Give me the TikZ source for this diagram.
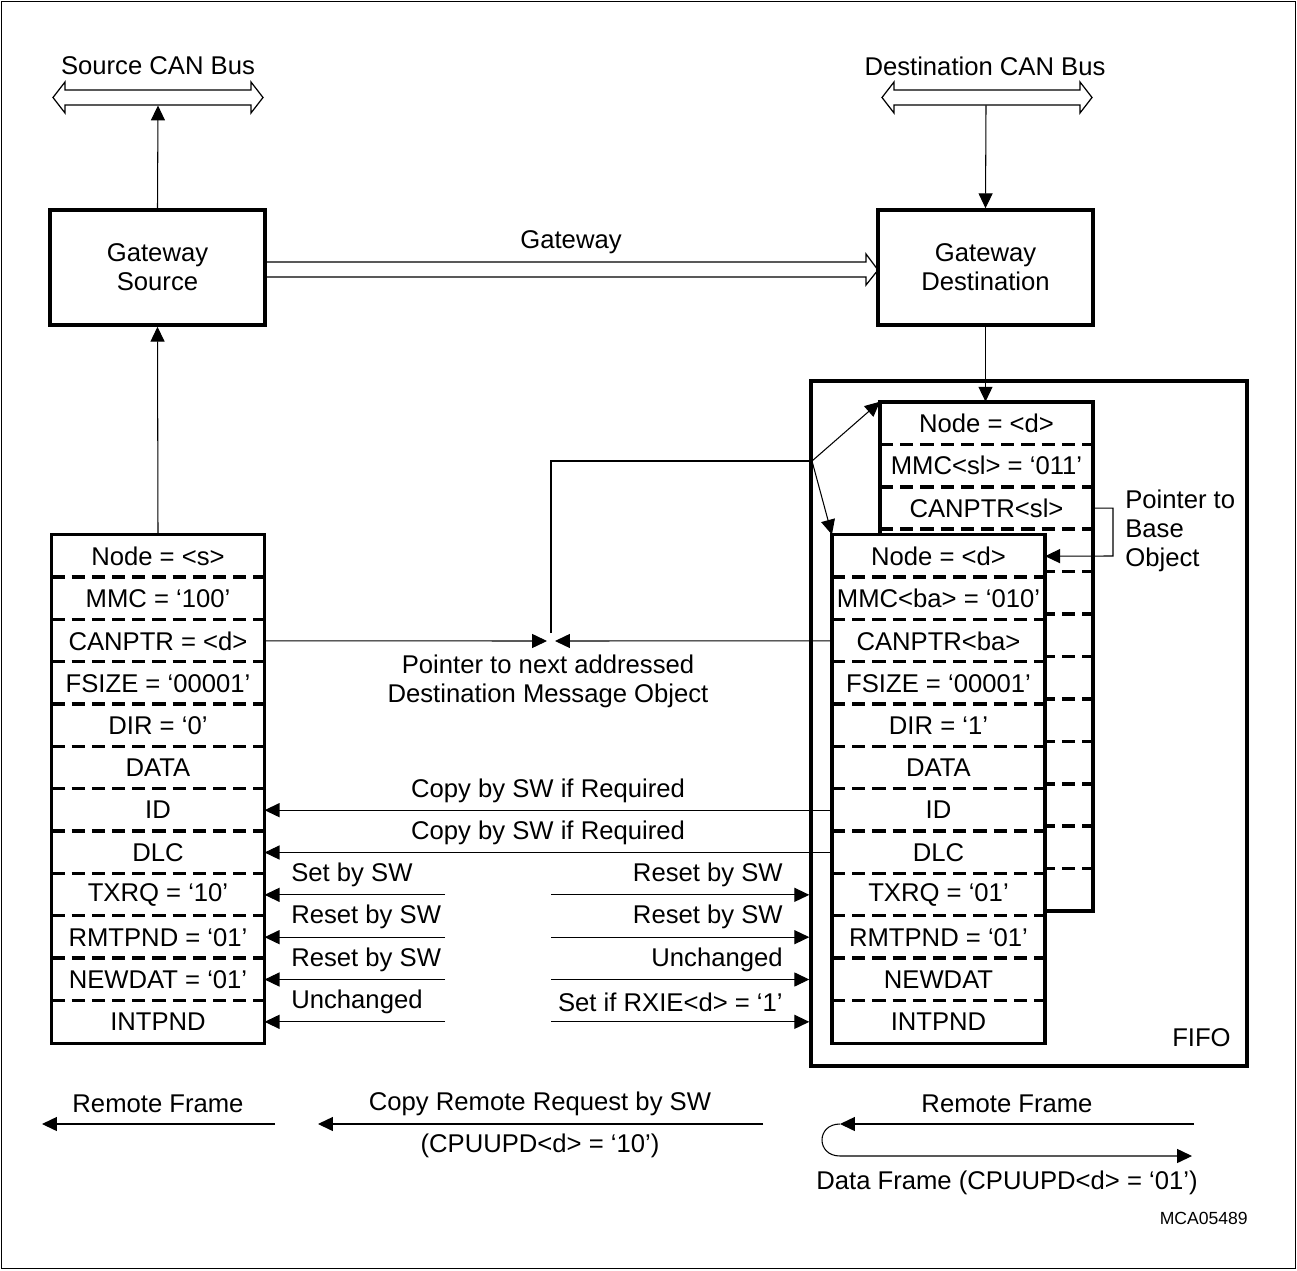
\documentclass[tikz,border=0pt]{standalone}
\usepackage{fontspec}
\setmainfont{Liberation Sans}
\usetikzlibrary{arrows.meta}
\tikzset{
  thinln/.style={line width=0.6pt},
  tip/.style={thinln,-{Triangle[length=8.5pt,width=8pt]}},
  hollow/.style={line width=0.7pt},
  boxln/.style={line width=2pt},
  sep/.style={line width=2pt, dash pattern=on 7.5pt off 4pt},
  cell/.style={minimum width=4.25cm, minimum height=0.8467cm, inner sep=0pt, fill=white},
  gwbox/.style={draw, line width=2pt, minimum width=4.3cm, minimum height=2.3cm, align=center, inner sep=0pt},
  lbl/.style={inner sep=0pt, align=center},
}
\begin{document}
\begin{tikzpicture}[x=0.02cm, y=-0.02cm, font=\fontsize{14.6}{16.5}\selectfont]
\useasboundingbox (0,0) rectangle (1297,1270);
\draw[line width=0.8pt] (1.5,1.5) rectangle (1295.5,1268.5);

% buses
\node[lbl] (sbuslbl) at (158,66) {Source CAN Bus};
\node[lbl] (dbuslbl) at (985,66) {Destination CAN Bus};
\draw[hollow] (53,97.5) -- (65,82) -- (65,90) -- (251,90) -- (251,82) -- (263,97.5) -- (251,113) -- (251,105) -- (65,105) -- (65,113) -- cycle;
\draw[hollow] (882,97.5) -- (894,82) -- (894,90) -- (1080,90) -- (1080,82) -- (1092,97.5) -- (1080,113) -- (1080,105) -- (894,105) -- (894,113) -- cycle;
\coordinate (sbus) at (158,105.5);
\coordinate (dbus) at (986,105.5);

% gateway boxes
\node[gwbox] (gs) at (157.5,267.5) {Gateway\\Source};
\node[gwbox] (gd) at (985.5,267.5) {Gateway\\Destination};
\draw[tip] (gs.north) -- (sbus);
\draw[tip] (dbus) -- (gd.north);

% gateway hollow arrow
\draw[hollow] (265,262) -- (866,262) -- (866,254) -- (878,270) -- (866,285) -- (866,277) -- (265,277);
\node[lbl] (gwlbl) at (571,242) {Gateway};

% FIFO
\node[draw, line width=2pt, minimum width=8.72cm, minimum height=13.7cm, inner sep=0pt] (fifo) at (1029,723.5) {};
\node[lbl, anchor=east] (fifolbl) at (1231,1038) {FIFO};

% back stack
\fill[white] (880,402) rectangle (1093,911);
\foreach \t [count=\i from 0] in {Node = <d>, MMC<sl> = ‘011’, CANPTR<sl>} {
  \node[cell] (b\i) at (986.5,{402+42.417*(\i+0.5)}) {\t};
}
\foreach \k in {1,...,11} {
  \draw[sep] (880,{402+42.417*\k}) -- (1093,{402+42.417*\k});
}
\draw[boxln] (880,402) rectangle (1093,911);
\draw[tip] (gd.south) -- (gd.south |- b0.north);

% front stack
\foreach \t [count=\i from 0] in {Node = <d>, MMC<ba> = ‘010’, CANPTR<ba>, FSIZE = ‘00001’, DIR = ‘1’, DATA, ID, DLC, TXRQ = ‘01’, RMTPND = ‘01’, NEWDAT, INTPND} {
  \node[cell] (f\i) at (938.5,{535+42.333*(\i+0.5)}) {\t};
}
\foreach \k in {1,...,11} {
  \draw[sep] (f\k.north west) -- (f\k.north east);
}
\draw[boxln] (f0.north west) rectangle (f11.south east);

% source stack
\foreach \t [count=\i from 0] in {Node = <s>, MMC = ‘100’, CANPTR = <d>, FSIZE = ‘00001’, DIR = ‘0’, DATA, ID, DLC, TXRQ = ‘10’, RMTPND = ‘01’, NEWDAT = ‘01’, INTPND} {
  \node[cell] (s\i) at (158,{535+42.333*(\i+0.5)}) {\t};
}
\foreach \k in {1,...,11} {
  \draw[sep] (s\k.north west) -- (s\k.north east);
}
\draw[boxln] (s0.north west) rectangle (s11.south east);
\draw[tip] (s0.north) -- (gs.south);

% pointer to base object
\coordinate (pbb) at (1113,556);
\draw[tip] (b2.east) -| (pbb) -- (f0.east);
\node[lbl, anchor=west, align=left] (pblbl) at (1125,531) {Pointer to\\Base\\Object};

% pointer to next addressed object
\coordinate (j) at (812,461);
\coordinate (m) at (551,461);
\coordinate (pl) at (547,641);
\coordinate (pr) at (555,641);
\coordinate (pv) at (551,633);
\draw[thinln] (pv) -- (m) -- (j);
\draw[tip] (j) -- (b0.north west);
\draw[tip] (j) -- (f0.north west);
\draw[tip] (s2.east) -- (pl);
\draw[tip] (f2.west) -- (pr);
\node[lbl] (ptrlbl) at (548,681) {Pointer to next addressed\\Destination Message Object};

% copies
\draw[tip] (f6.west) -- (s6.east);
\node[lbl] (c1) at (548,791) {Copy by SW if Required};
\draw[tip] (f7.west) -- (s7.east);
\node[lbl] (c2) at (548,833) {Copy by SW if Required};

% status arrows
\foreach \k/\ll/\rl in {8/Set by SW/Reset by SW, 9/Reset by SW/Reset by SW, 10/Reset by SW/Unchanged, 11/Unchanged/Set if RXIE<d> = ‘1’} {
  \coordinate (la\k) at (445,{535+42.333*(\k+0.5)});
  \coordinate (ra\k) at (551,{535+42.333*(\k+0.5)});
  \draw[tip] (la\k) -- (s\k.east);
  \draw[tip] (ra\k) -- (ra\k -| fifo.west);
  \node[lbl, anchor=west] (ll\k) at (291,{535+42.333*(\k+0.5)-20}) {\ll};
  \node[lbl, anchor=east] (rl\k) at (783,{535+42.333*(\k+0.5)-20}) {\rl};
}

% bottom
\coordinate (r1a) at (275,1124);
\coordinate (r1b) at (42,1124);
\draw[tip] (r1a) -- (r1b);
\node[lbl] (r1l) at (158,1104) {Remote Frame};
\coordinate (r2a) at (763,1124);
\coordinate (r2b) at (318,1124);
\draw[tip] (r2a) -- (r2b);
\node[lbl] (r2l) at (540,1104) {Copy Remote Request by SW};
\node[lbl] (r2m) at (540,1146) {(CPUUPD<d> = ‘10’)};
\coordinate (r3a) at (1194,1124);
\coordinate (r3b) at (840,1124);
\coordinate (r3c) at (840,1156);
\coordinate (r3d) at (1192,1156);
\draw[tip] (r3a) -- (r3b);
\draw[tip] (r3b) .. controls (816,1124) and (816,1156) .. (r3c) -- (r3d);
\node[lbl] (r3l) at (1007,1104) {Remote Frame};
\node[lbl] (r3m) at (1007,1183) {Data Frame (CPUUPD<d> = ‘01’)};
\node[lbl, anchor=east, font=\fontsize{10}{12}\selectfont] (mca) at (1248,1218) {MCA05489};
\end{tikzpicture}
\end{document}
